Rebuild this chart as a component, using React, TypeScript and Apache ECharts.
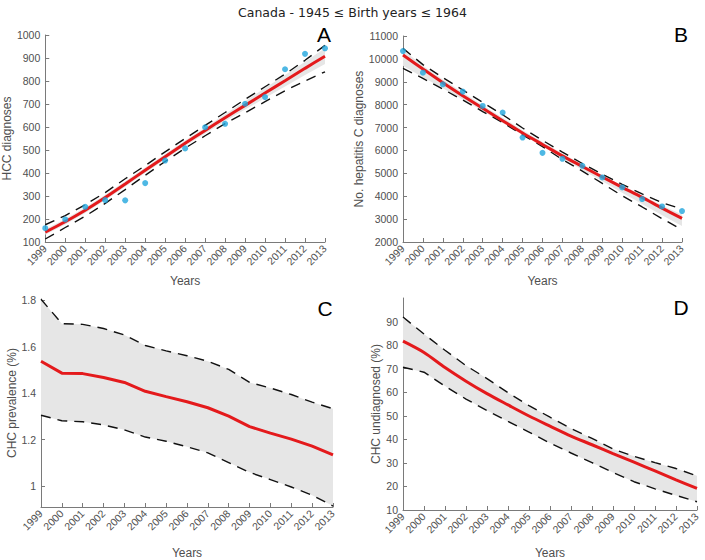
import React, { useEffect, useRef } from "react";
import * as echarts from "echarts";

const years = ["1999","2000","2001","2002","2003","2004","2005","2006","2007","2008","2009","2010","2011","2012","2013"];

// Panel A: HCC diagnoses
const hccObserved = [160, 198, 253, 282, 281, 356, 454, 507, 599, 614, 701, 730, 851, 918, 942];
const hccFit = [143, 188, 238, 293, 352, 412, 471, 529, 585, 640, 694, 748, 801, 855, 908];
const hccBandHigh = [155, 200, 250, 305, 364, 424, 483, 541, 598, 655, 712, 770, 826, 884, 942];
const hccBandLow = [131, 176, 226, 281, 340, 400, 459, 517, 572, 625, 676, 726, 776, 826, 874];
const hccUpper = [175, 215, 262, 315, 375, 432, 492, 550, 607, 663, 720, 775, 830, 890, 955];
const hccLower = [113, 163, 212, 268, 328, 390, 450, 508, 562, 615, 662, 710, 758, 800, 840];

// Panel B: hepatitis C diagnoses
const hcvObserved = [10340, 9398, 8890, 8570, 7945, 7654, 6564, 5895, 5634, 5328, 4820, 4384, 3875, 3555, 3352];
const hcvFit = [10170, 9560, 8960, 8390, 7840, 7300, 6760, 6260, 5760, 5300, 4840, 4390, 3950, 3480, 3030];
const hcvBandHigh = [10400, 9700, 9100, 8530, 7970, 7430, 6880, 6370, 5870, 5390, 4920, 4470, 4040, 3600, 3200];
const hcvBandLow = [9700, 9200, 8720, 8230, 7720, 7200, 6680, 6170, 5660, 5150, 4650, 4150, 3660, 3170, 2700];
const hcvUpper = [10460, 9750, 9180, 8640, 8100, 7560, 6980, 6440, 5930, 5430, 4960, 4520, 4100, 3720, 3440];
const hcvLower = [9590, 9150, 8680, 8200, 7700, 7220, 6680, 6170, 5600, 5100, 4560, 4020, 3530, 3020, 2540];

// Panel C: CHC prevalence (%)
const prevFit = [1.537, 1.486, 1.484, 1.467, 1.446, 1.408, 1.385, 1.363, 1.337, 1.301, 1.256, 1.228, 1.202, 1.172, 1.134];
const prevUpper = [1.804, 1.699, 1.696, 1.678, 1.650, 1.605, 1.582, 1.561, 1.537, 1.502, 1.446, 1.422, 1.394, 1.361, 1.333];
const prevLower = [1.305, 1.281, 1.277, 1.263, 1.242, 1.211, 1.193, 1.169, 1.143, 1.101, 1.059, 1.028, 0.996, 0.961, 0.914];

// Panel D: CHC undiagnosed (%)
const undiagFit = [81.7, 76.9, 70.5, 64.7, 59.4, 54.6, 49.9, 45.6, 41.4, 37.7, 33.9, 30.3, 26.6, 22.8, 19.2];
const undiagUpper = [91.9, 84.7, 77.8, 71.3, 65.8, 59.8, 54.3, 49.4, 44.6, 40.4, 35.9, 32.8, 30.1, 27.6, 24.5];
const undiagLower = [70.6, 68.5, 62.6, 57.1, 52.2, 47.6, 43.1, 38.4, 34.2, 30.1, 25.9, 22.0, 19.0, 16.2, 13.5];

const ticksA = [100, 200, 300, 400, 500, 600, 700, 800, 900, 1000];
const ticksB = [2000, 3000, 4000, 5000, 6000, 7000, 8000, 9000, 10000, 11000];
const ticksC = [1, 1.2, 1.4, 1.6, 1.8];
const ticksD = [10, 20, 30, 40, 50, 60, 70, 80, 90];

const AX = "#7a7a7a";
const LBL = "#4f4f4f";
const FONT = "'Liberation Sans', Arial, sans-serif";
const RED = "#e41a1c";
const BLUE = "#22a6dd";
const GREY = "#e6e6e6";

function xAxisFor(gridIndex: number, gap: number) {
  return {
    type: "category",
    gridIndex,
    data: years,
    boundaryGap: false,
    name: "Years",
    nameLocation: "middle",
    nameGap: gap,
    nameTextStyle: { color: LBL, fontSize: 12, fontFamily: FONT },
    axisLine: { lineStyle: { color: AX, width: 1 } },
    axisTick: { inside: true, length: 4, interval: 0, lineStyle: { color: AX } },
    axisLabel: {
      rotate: 45,
      interval: 0,
      hideOverlap: false,
      color: LBL,
      fontSize: 10.5,
      fontFamily: FONT,
      margin: 5,
    },
    splitLine: { show: false },
  };
}

function yAxisFor(gridIndex: number, name: string, min: number, max: number, ticks: number[], gap: number) {
  return {
    type: "value",
    gridIndex,
    min,
    max,
    name,
    nameLocation: "middle",
    nameGap: gap,
    nameRotate: 90,
    nameTextStyle: { color: LBL, fontSize: 12, fontFamily: FONT },
    axisLine: { show: true, lineStyle: { color: AX, width: 1 } },
    axisTick: { show: true, inside: true, length: 4, lineStyle: { color: AX }, customValues: ticks },
    axisLabel: {
      color: LBL,
      fontSize: 10.5,
      fontFamily: FONT,
      margin: 5,
      customValues: ticks,
      formatter: (v: number) => String(Math.round(v * 1000) / 1000),
    },
    splitLine: { show: false },
  };
}

function bandSeries(idx: number, low: number[], high: number[], key: string) {
  return [
    {
      type: "line",
      xAxisIndex: idx,
      yAxisIndex: idx,
      data: low,
      stack: key,
      symbol: "none",
      lineStyle: { opacity: 0 },
      silent: true,
      z: 1,
    },
    {
      type: "line",
      xAxisIndex: idx,
      yAxisIndex: idx,
      data: high.map((h, i) => h - low[i]),
      stack: key,
      symbol: "none",
      lineStyle: { opacity: 0 },
      areaStyle: { color: GREY, opacity: 1 },
      silent: true,
      z: 1,
    },
  ];
}

function dashed(idx: number, data: number[]) {
  return {
    type: "line",
    xAxisIndex: idx,
    yAxisIndex: idx,
    data,
    symbol: "none",
    lineStyle: { color: "#111", width: 1.4, type: [10, 7] },
    z: 3,
  };
}

function fitLine(idx: number, data: number[]) {
  return {
    type: "line",
    xAxisIndex: idx,
    yAxisIndex: idx,
    data,
    symbol: "none",
    smooth: 0.3,
    lineStyle: { color: RED, width: 3 },
    z: 4,
  };
}

function points(idx: number, data: number[]) {
  return {
    type: "scatter",
    xAxisIndex: idx,
    yAxisIndex: idx,
    data,
    symbol: "circle",
    symbolSize: 6,
    itemStyle: { color: BLUE },
    z: 5,
  };
}

export default function App() {
  const ref = useRef<HTMLDivElement>(null);
  useEffect(() => {
    if (!ref.current) return;
    const chart = echarts.init(ref.current, undefined, { renderer: "svg" });
    const letter = (text: string, x: number, y: number) => ({
      type: "text",
      x,
      y,
      style: { text, fill: "#000", fontSize: 21, fontFamily: FONT, textAlign: "center", textVerticalAlign: "middle" },
      z: 10,
    });
    chart.setOption({
      animation: false,
      backgroundColor: "#ffffff",
      title: {
        text: "Canada - 1945 ≤ Birth years ≤ 1964",
        left: "center",
        top: 1,
        textStyle: { color: "#222", fontSize: 12.5, fontWeight: "normal", fontFamily: "'DejaVu Sans', Verdana, sans-serif" },
      },
      grid: [
        { left: 41, right: 380, top: 35, bottom: 318 },
        { left: 403, right: 23, top: 36, bottom: 318 },
        { left: 41, right: 372, top: 299, bottom: 48 },
        { left: 403, right: 8, top: 298, bottom: 45 },
      ],
      xAxis: [xAxisFor(0, 33), xAxisFor(1, 33), xAxisFor(2, 40), xAxisFor(3, 37)],
      yAxis: [
        yAxisFor(0, "HCC diagnoses", 100, 1000, ticksA, 27),
        yAxisFor(1, "No. hepatitis C diagnoses", 2000, 11000, ticksB, 32),
        yAxisFor(2, "CHC prevalence (%)", 0.91, 1.805, ticksC, 23),
        yAxisFor(3, "CHC undiagnosed (%)", 10, 100, ticksD, 15),
      ],
      graphic: [letter("A", 324, 34), letter("B", 681, 34), letter("C", 325, 308), letter("D", 681, 307)],
      series: [
        ...bandSeries(0, hccBandLow, hccBandHigh, "a"),
        dashed(0, hccUpper),
        dashed(0, hccLower),
        fitLine(0, hccFit),
        points(0, hccObserved),
        ...bandSeries(1, hcvBandLow, hcvBandHigh, "b"),
        dashed(1, hcvUpper),
        dashed(1, hcvLower),
        fitLine(1, hcvFit),
        points(1, hcvObserved),
        ...bandSeries(2, prevLower, prevUpper, "c"),
        dashed(2, prevUpper),
        dashed(2, prevLower),
        { ...fitLine(2, prevFit), smooth: false },
        ...bandSeries(3, undiagLower, undiagUpper, "d"),
        dashed(3, undiagUpper),
        dashed(3, undiagLower),
        fitLine(3, undiagFit),
      ],
    });
    return () => chart.dispose();
  }, []);
  return <div ref={ref} style={{ position: "absolute", left: 0, top: 0, width: 705, height: 560 }} />;
}
